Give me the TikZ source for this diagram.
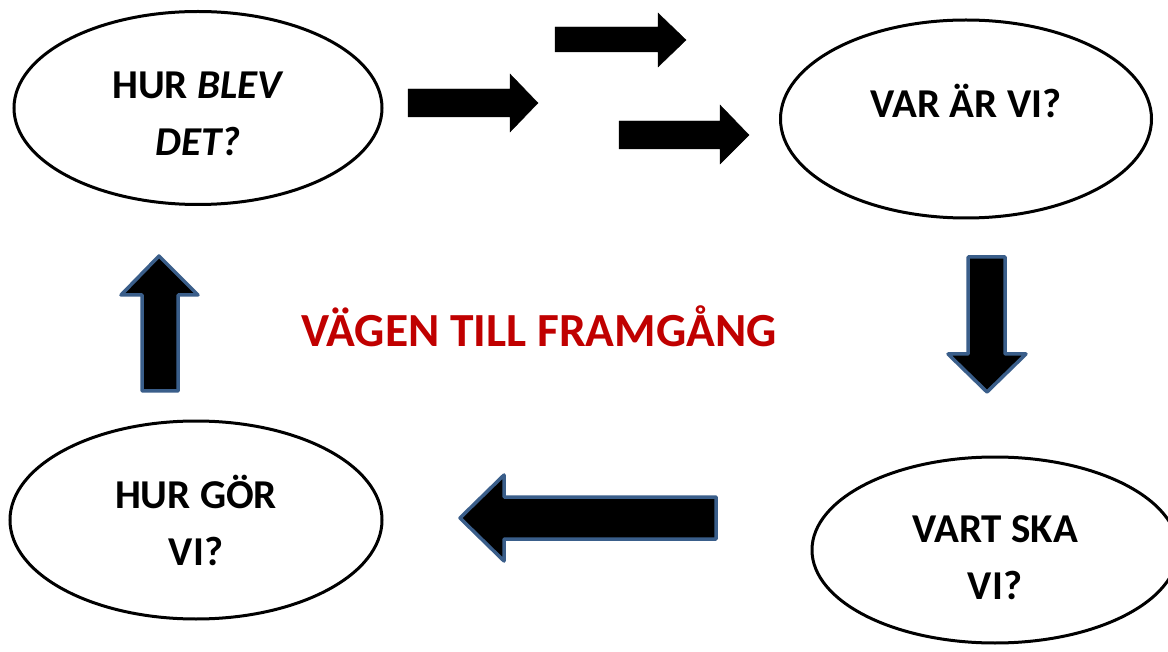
\documentclass[tikz,border=0pt]{standalone}
\usepackage{fontspec}
\setmainfont{Carlito}
\usetikzlibrary{shapes.geometric}
\definecolor{titlered}{RGB}{192,0,0}
\definecolor{edgeblue}{RGB}{58,94,138}
\begin{document}
\begin{tikzpicture}
[x=1pt, y=-1pt,
 bubble/.style ={draw, ellipse, line width=3pt, inner sep=0pt},
 asktext/.style ={align=center, inner sep=0pt, font=\fontsize{41}{57}\selectfont\bfseries},
 flatarrow/.style ={fill=black},
 edgedarrow/.style ={fill=black, draw=edgeblue, line width=3.5pt, line join=round}]
\useasboundingbox (0,0) rectangle (1168,652);
% the four questions
\node[bubble, minimum width=368pt, minimum height=193pt,
  label={[asktext, yshift=-5.5pt]center:HUR \textit{BLEV}\\ \textit{DET?}}] (blev) at (198,108) {};
\node[bubble, minimum width=371pt, minimum height=198pt,
  label={[asktext, yshift=18pt]center:VAR ÄR VI?}] (var) at (966,119) {};
\node[bubble, minimum width=366pt, minimum height=186pt,
  label={[asktext, yshift=-8pt]center:VART SKA\\ VI?}] (vart) at (995,550) {};
\node[bubble, minimum width=372pt, minimum height=198pt,
  label={[asktext]center:HUR GÖR\\ VI?}] (gor) at (196,520) {};
\node[text=titlered, font=\fontsize{47.5}{50}\selectfont\bfseries] (titel) at (539,326) {VÄGEN TILL FRAMGÅNG};
% three plain arrows on top
\draw[flatarrow] (408,89) -- (510,89) -- (510,74) -- (538,103) -- (510,132) -- (510,117) -- (408,117) -- cycle;
\draw[flatarrow] (555,27) -- (658,27) -- (658,13) -- (686,40) -- (658,67) -- (658,52) -- (555,52) -- cycle;
\draw[flatarrow] (619,121) -- (720,121) -- (720,105) -- (749,135) -- (720,164) -- (720,149) -- (619,149) -- cycle;
% arrows with blue edge
\draw[edgedarrow] (968,257) -- (1005,257) -- (1005,354) -- (1026,354) -- (987,392) -- (948,354) -- (968,354) -- cycle;
\draw[edgedarrow] (716,497) -- (716,539) -- (504,539) -- (504,561) -- (460,518) -- (504,475) -- (504,497) -- cycle;
\draw[edgedarrow] (142,391) -- (178,391) -- (178,295) -- (198,295) -- (159,256) -- (121,295) -- (142,295) -- cycle;
\end{tikzpicture}
\end{document}
